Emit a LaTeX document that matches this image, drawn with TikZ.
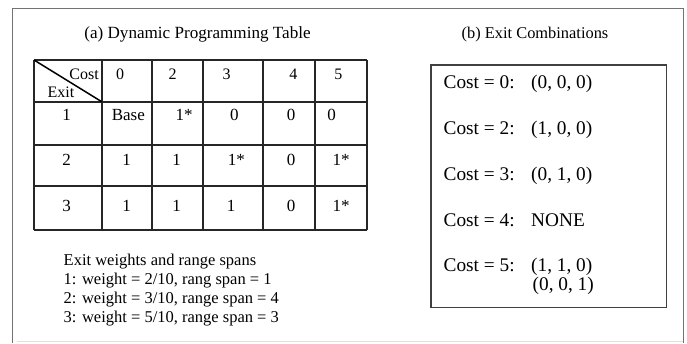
\documentclass[tikz,border=0pt]{standalone}
\usepackage{fontspec}
\setmainfont{Liberation Serif}
\begin{document}
\begin{tikzpicture}[x=1pt,y=-1pt,
  txt/.style={inner sep=0pt, text height=0.66em, text depth=0pt},
  cell/.style={txt, font=\fontsize{17}{20}\selectfont},
  hdr/.style={txt, font=\fontsize{16}{19}\selectfont},
  note/.style={txt, anchor=west, font=\fontsize{16.5}{19}\selectfont},
  combo/.style={txt, anchor=west, font=\fontsize{19.3}{22}\selectfont},
  grid/.style={line width=1.8pt, black!85},
  frame/.style={line width=1.4pt, black!55},
  boxline/.style={line width=1.4pt, black!75}]
\useasboundingbox (0,0) rectangle (687,343);
% outer frame
\draw[frame] (12.5,343) -- (12.5,8.5) -- (683.5,8.5) -- (683.5,343);
\draw[line width=0.8pt, black!12] (17,341.5) -- (683,341.5);
% titles
\node[txt, font=\fontsize{17.1}{20}\selectfont] (ta) at (197.5,35) {(a) Dynamic Programming Table};
\node[txt, font=\fontsize{16.4}{20}\selectfont] (tb) at (535,35) {(b) Exit Combinations};
% table grid
\foreach \x in {34,101.7,152.3,203.3,263.3,315,367}
  \draw[grid] (\x,60) -- (\x,230);
\foreach \y in {60,101.7,145,186,230}
  \draw[grid] (34,\y) -- (367,\y);
\draw[line width=1.5pt] (34,60) -- (101.7,101.7);
% header
\node[hdr, anchor=east] (hcost) at (99,76) {Cost};
\node[hdr, anchor=west] (hexit) at (47.5,94) {Exit};
\node[hdr] (c0) at (120,76) {0};
\node[hdr] (c2) at (172.7,76) {2};
\node[hdr] (c3) at (226.7,76) {3};
\node[hdr] (c4) at (293.3,76) {4};
\node[hdr] (c5) at (338.3,76) {5};
% row 1
\node[cell] (r1) at (66.7,117) {1};
\node[cell] (r1c0) at (128.3,117) {Base};
\node[cell] (r1c2) at (184,117) {1*};
\node[cell] (r1c3) at (234.3,117) {0};
\node[cell] (r1c4) at (291,117) {0};
\node[cell] (r1c5) at (331.7,117) {0};
% row 2
\node[cell] (r2) at (66.7,161.7) {2};
\node[cell] (r2c0) at (126.7,161.7) {1};
\node[cell] (r2c2) at (176.7,161.7) {1};
\node[cell] (r2c3) at (236.3,161.7) {1*};
\node[cell] (r2c4) at (291,161.7) {0};
\node[cell] (r2c5) at (341,161.7) {1*};
% row 3
\node[cell] (r3) at (66.7,207.7) {3};
\node[cell] (r3c0) at (126.7,207.7) {1};
\node[cell] (r3c2) at (176.7,207.7) {1};
\node[cell] (r3c3) at (231,207.7) {1};
\node[cell] (r3c4) at (291,207.7) {0};
\node[cell] (r3c5) at (341,207.7) {1*};
% notes
\node[note] (n0) at (63.5,262) {Exit weights and range spans};
\node[note] (n1) at (63.5,280.7) {1: weight = 2/10, rang span = 1};
\node[note] (n2) at (63.5,300) {2: weight = 3/10, range span = 4};
\node[note] (n3) at (63.5,319) {3: weight = 5/10, range span = 3};
% combinations box
\draw[boxline] (431,65) rectangle (666.7,307.7);
\node[combo] (k0) at (443.5,85) {Cost = 0:};
\node[combo] (v0) at (531,85) {(0, 0, 0)};
\node[combo] (k2) at (443.5,130.7) {Cost = 2:};
\node[combo] (v2) at (531,130.7) {(1, 0, 0)};
\node[combo] (k3) at (443.5,176.7) {Cost = 3:};
\node[combo] (v3) at (531,176.7) {(0, 1, 0)};
\node[combo] (k4) at (443.5,222.7) {Cost = 4:};
\node[combo] (v4) at (531,222.7) {NONE};
\node[combo] (k5) at (443.5,267.7) {Cost = 5:};
\node[combo] (v5) at (531,267.7) {(1, 1, 0)};
\node[combo] (v5b) at (532.5,286.7) {(0, 0, 1)};
\end{tikzpicture}
\end{document}
